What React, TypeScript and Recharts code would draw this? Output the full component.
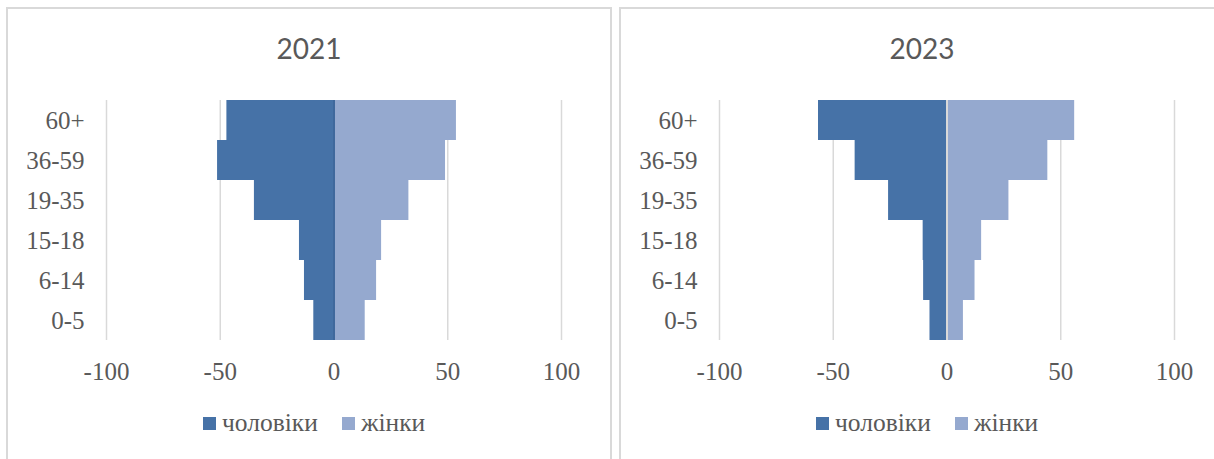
import React from "react"
import {
  BarChart,
  Bar,
  XAxis,
  YAxis,
  CartesianGrid,
  Legend,
  ReferenceLine,
} from "recharts"

// age groups, top to bottom
const ageGroups = ["60+", "36-59", "19-35", "15-18", "6-14", "0-5"]

// men are drawn to the left, so negative
const men2021 = [-47.3, -51.4, -35.2, -15.4, -13.2, -9.1]
const women2021 = [53.6, 48.8, 32.7, 20.7, 18.5, 13.5]

const men2023 = [-56.7, -40.6, -25.9, -10.7, -10.5, -7.7]
const women2023 = [55.9, 44.1, 27.0, 15.0, 12.1, 7.0]

const xTicks = [-100, -50, 0, 50, 100]

const MALE = "#4672A7"
const FEMALE = "#95A9CF"
const TEXT = "#595959"
const GRID = "#d9d9d9"
const SERIF = "'Liberation Serif', serif"
const FONT_SIZE = 25

const legendItems = [
  { label: "чоловіки", color: MALE },
  { label: "жінки", color: FEMALE },
]

function PyramidLegend() {
  return (
    <div style={{ display: "flex", alignItems: "center", paddingLeft: 203, height: 24 }}>
      {legendItems.map((item, i) => (
        <div key={item.label} style={{ display: "flex", alignItems: "center", marginLeft: i ? 24 : 0 }}>
          <span style={{ width: 13, height: 13, background: item.color, display: "inline-block" }} />
          <span style={{ marginLeft: 6, fontFamily: SERIF, fontSize: FONT_SIZE + 0.5, color: TEXT, lineHeight: "24px" }}>
            {item.label}
          </span>
        </div>
      ))}
    </div>
  )
}

interface PanelProps {
  title: string
  men: number[]
  women: number[]
  left: number
  zeroColor: string
}

function Panel({ title, men, women, left, zeroColor }: PanelProps) {
  const data = ageGroups.map((group, i) => ({ group, men: men[i], women: women[i] }))

  return (
    <div style={{ position: "absolute", left, top: 0, width: 612, height: 459 }}>
      <div
        style={{
          position: "absolute",
          left: 6,
          top: 7,
          width: 606,
          height: 470,
          border: `2px solid ${GRID}`,
          boxSizing: "border-box",
        }}
      />
      <div
        style={{
          position: "absolute",
          left: 6,
          top: 32,
          width: 606,
          textAlign: "center",
          fontFamily: "Lato, sans-serif",
          fontSize: 28,
          lineHeight: "32px",
          color: TEXT,
        }}
      >
        {title}
      </div>
      <div style={{ position: "absolute", left: 0, top: 0 }}>
        <BarChart
          width={610}
          height={459}
          data={data}
          layout="vertical"
          stackOffset="sign"
          barCategoryGap={0}
          margin={{ top: 100, right: 48.5, bottom: 89, left: 0 }}
        >
          <CartesianGrid horizontal={false} stroke={GRID} strokeWidth={1.5} />
          <XAxis
            type="number"
            domain={[-100, 100]}
            ticks={xTicks}
            axisLine={false}
            tickLine={false}
            tickSize={0}
            tickMargin={22}
            tick={{ fill: TEXT, fontSize: FONT_SIZE, fontFamily: SERIF }}
          />
          <YAxis
            type="category"
            dataKey="group"
            width={106.5}
            axisLine={false}
            tickLine={false}
            tickSize={0}
            tickMargin={22}
            tick={{ fill: TEXT, fontSize: FONT_SIZE, fontFamily: SERIF }}
          />
          <Bar dataKey="men" stackId="a" fill={MALE} isAnimationActive={false} />
          <Bar dataKey="women" stackId="a" fill={FEMALE} isAnimationActive={false} />
          <ReferenceLine x={0} stroke={zeroColor} strokeWidth={2} />
          <Legend
            verticalAlign="middle"
            align="center"
            content={() => <PyramidLegend />}
            wrapperStyle={{ top: 411, left: 0, width: 610 }}
          />
        </BarChart>
      </div>
    </div>
  )
}

export default function App() {
  return (
    <div style={{ position: "fixed", left: 0, top: 0, width: 1214, height: 459, overflow: "hidden", background: "#fff" }}>
      <Panel title="2021" men={men2021} women={women2021} left={0} zeroColor="#3f689c" />
      <Panel title="2023" men={men2023} women={women2023} left={613} zeroColor="#d9d9d9" />
    </div>
  )
}
